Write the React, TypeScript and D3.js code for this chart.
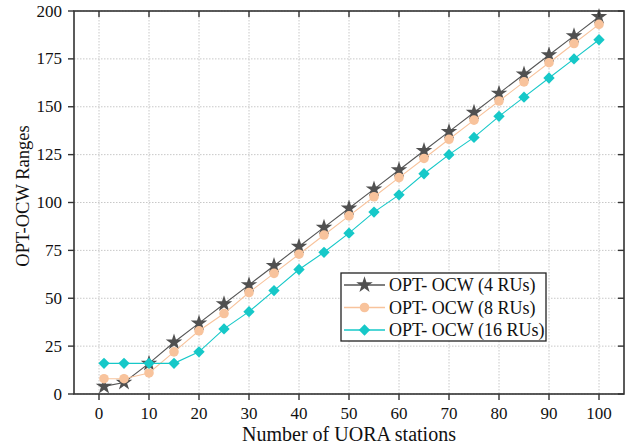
import React from "react";
import * as d3 from "d3";

const xValues = [1, 5, 10, 15, 20, 25, 30, 35, 40, 45, 50, 55, 60, 65, 70, 75, 80, 85, 90, 95, 100];
const ru4 = [4, 6, 16, 27, 37, 47, 57, 67, 77, 87, 97, 107, 117, 127, 137, 147, 157, 167, 177, 187, 197];
const ru8 = [8, 8, 11, 22, 33, 42, 53, 63, 73, 83, 93, 103, 113, 123, 133, 143, 153, 163, 173, 183, 193];
const ru16 = [16, 16, 16, 16, 22, 34, 43, 54, 65, 74, 84, 95, 104, 115, 125, 134, 145, 155, 165, 175, 185];
const xTicks = [0, 10, 20, 30, 40, 50, 60, 70, 80, 90, 100];
const yTicks = [0, 25, 50, 75, 100, 125, 150, 175, 200];
const seriesNames = ["OPT- OCW (4 RUs)", "OPT- OCW (8 RUs)", "OPT- OCW (16 RUs)"];

const W = 633, H = 447;
const L = 74, R = 624, T = 11, B = 394;
const font = "'Liberation Serif', 'Times New Roman', serif";

export default function App() {
  const x = d3.scaleLinear().domain([-5, 105]).range([L, R]);
  const y = d3.scaleLinear().domain([0, 200]).range([B, T]);

  const series = [
    { name: seriesNames[0], values: ru4, color: "#505050", stroke: "#555555", symbol: d3.symbolStar, size: 85, rot: 0 },
    { name: seriesNames[1], values: ru8, color: "#F8C39C", stroke: "#F8C39C", symbol: d3.symbolCircle, size: 72, rot: 0 },
    { name: seriesNames[2], values: ru16, color: "#16C8C8", stroke: "#16C8C8", symbol: d3.symbolSquare, size: 64, rot: 45 },
  ];

  const line = (vals: number[]) =>
    d3.line<number>().x((_, i) => x(xValues[i])).y((v) => y(v))(vals) || "";

  const axisColor = "#333333";
  const tickLen = 6;

  return (
    <svg width={W} height={H} style={{ position: "absolute", left: 0, top: 0, background: "#fff" }}>
      <rect x={0} y={0} width={W} height={H} fill="#fff" />
      {/* grid */}
      {xTicks.map((t) => (
        <line key={"gx" + t} x1={x(t)} x2={x(t)} y1={T} y2={B} stroke="#c8c8c8" strokeWidth={1} strokeDasharray="1.5,1.5" />
      ))}
      {yTicks.map((t) => (
        <line key={"gy" + t} x1={L} x2={R} y1={y(t)} y2={y(t)} stroke="#c8c8c8" strokeWidth={1} strokeDasharray="1.5,1.5" />
      ))}
      {/* series */}
      {series.map((s) => (
        <g key={s.name}>
          <path d={line(s.values)} fill="none" stroke={s.stroke} strokeWidth={1.1} />
          {s.values.map((v, i) => (
            <path
              key={i}
              d={d3.symbol().type(s.symbol).size(s.size)() || ""}
              transform={`translate(${x(xValues[i])},${y(v)}) rotate(${s.rot})`}
              fill={s.color}
            />
          ))}
        </g>
      ))}
      {/* frame */}
      <rect x={L} y={T} width={R - L} height={B - T} fill="none" stroke={axisColor} strokeWidth={1.6} />
      {/* x ticks */}
      {xTicks.map((t) => (
        <g key={"xt" + t}>
          <line x1={x(t)} x2={x(t)} y1={B} y2={B + tickLen} stroke={axisColor} strokeWidth={1.4} />
          <line x1={x(t)} x2={x(t)} y1={T} y2={T + tickLen} stroke={axisColor} strokeWidth={1.4} />
          <text x={x(t)} y={B + 25} textAnchor="middle" fontFamily={font} fontSize={17} fill="#111">
            {t}
          </text>
        </g>
      ))}
      {/* y ticks */}
      {yTicks.map((t) => (
        <g key={"yt" + t}>
          <line x1={L - tickLen} x2={L} y1={y(t)} y2={y(t)} stroke={axisColor} strokeWidth={1.4} />
          <line x1={R - tickLen} x2={R} y1={y(t)} y2={y(t)} stroke={axisColor} strokeWidth={1.4} />
          <text x={L - 12} y={y(t) + 5.5} textAnchor="end" fontFamily={font} fontSize={17} fill="#111">
            {t}
          </text>
        </g>
      ))}
      {/* axis titles */}
      <text x={(L + R) / 2} y={441} textAnchor="middle" fontFamily={font} fontSize={20} fill="#111">
        Number of UORA stations
      </text>
      <text
        transform={`translate(29,196) rotate(-90)`}
        textAnchor="middle"
        fontFamily={font}
        fontSize={18.5}
        fill="#111"
      >
        OPT-OCW Ranges
      </text>
      {/* legend */}
      <rect x={341} y={273} width={205} height={68} fill="#fff" stroke="#222" strokeWidth={1.3} />
      {series.map((s, i) => {
        const cy = 285 + i * 22.5;
        return (
          <g key={"lg" + i}>
            <line x1={344} x2={385} y1={cy} y2={cy} stroke={s.stroke} strokeWidth={1.3} />
            <path
              d={d3.symbol().type(s.symbol).size(s.size)() || ""}
              transform={`translate(364.5,${cy}) rotate(${s.rot})`}
              fill={s.color}
            />
            <text x={389} y={cy + 6} fontFamily={font} fontSize={18} fill="#111">
              {s.name}
            </text>
          </g>
        );
      })}
    </svg>
  );
}
